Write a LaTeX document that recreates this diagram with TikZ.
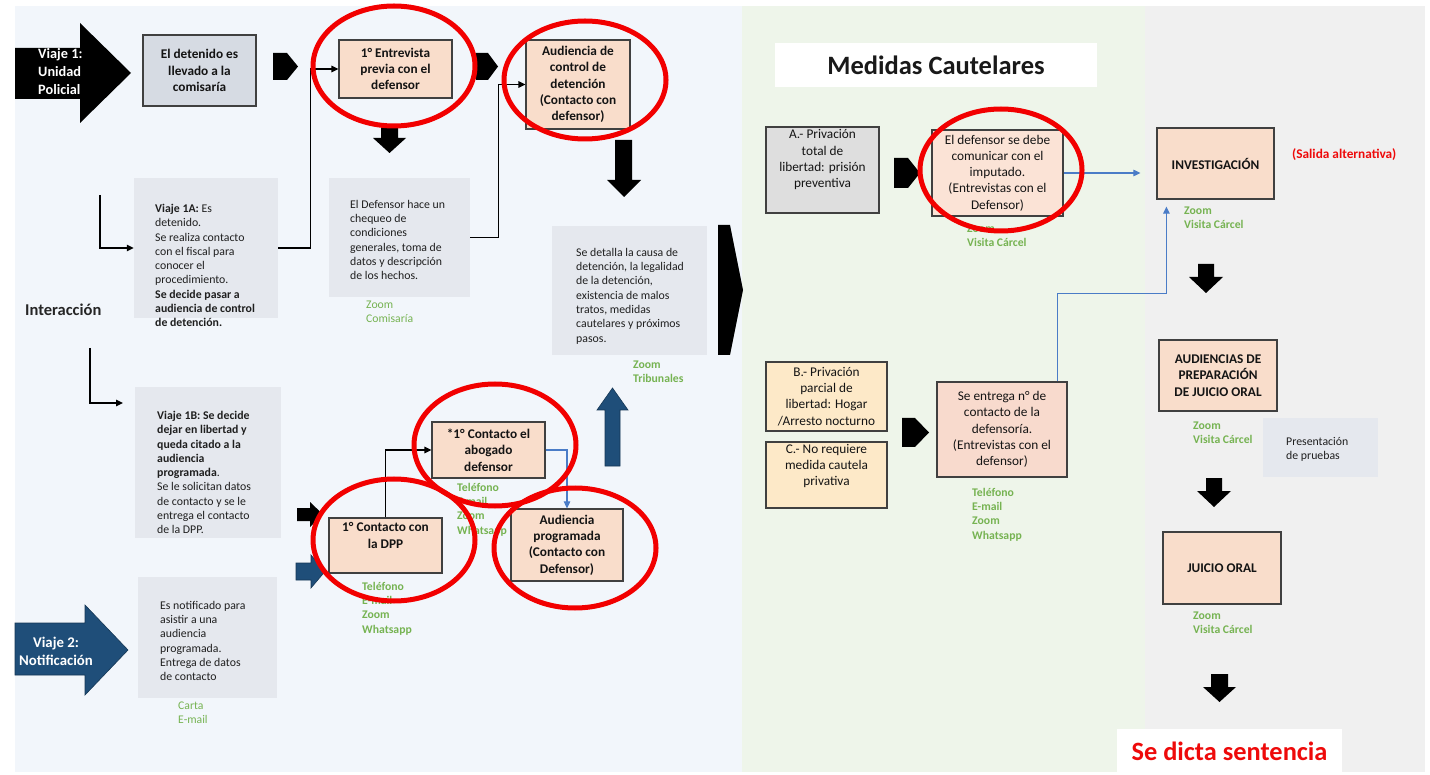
\documentclass[tikz,border=0pt]{standalone}
\usepackage{fontspec}
\setmainfont{Carlito}
\usetikzlibrary{arrows.meta}
\definecolor{bgblue}{HTML}{F2F6FB}
\definecolor{bggreen}{HTML}{EEF5EA}
\definecolor{bggrey}{HTML}{F0F0F0}
\definecolor{peach}{HTML}{F9DDCB}
\definecolor{pinkpeach}{HTML}{FBE3D6}
\definecolor{rosy}{HTML}{F8DACD}
\definecolor{cream}{HTML}{FDE9C8}
\definecolor{boxgrey}{HTML}{D6DBE3}
\definecolor{agrey}{HTML}{DEDEDE}
\definecolor{textbg}{HTML}{E5E8EE}
\definecolor{zgreen}{HTML}{76B352}
\definecolor{navy}{HTML}{1F4E79}
\definecolor{lineblue}{HTML}{4A7CC7}
\definecolor{ovalred}{HTML}{F20000}
\definecolor{txtred}{HTML}{EE0A0A}
\begin{document}
\begin{tikzpicture}[x=1pt,y=-1pt,
  box/.style={draw=black!75,line width=1.2pt,inner sep=0pt,align=center,text=black!92},
  bb/.style={box,font=\fontsize{13.3}{16.3}\selectfont\bfseries},
  rb/.style={box,font=\fontsize{13.3}{16.3}\selectfont},
  tb/.style={fill=textbg,inner sep=0pt},
  tt/.style={anchor=north west,inner sep=0pt,align=left,font=\fontsize{11.8}{14.3}\selectfont,text=black!88},
  gt/.style={anchor=north west,inner sep=0pt,align=left,font=\fontsize{11.7}{14.2}\selectfont\bfseries,text=zgreen},
  gtl/.style={gt,font=\fontsize{11.7}{14.2}\selectfont},
  conn/.style={line width=1.3pt,-{Triangle[length=7pt,width=6.5pt]}},
  bconn/.style={conn,draw=lineblue,line width=1.1pt},
  oval/.style={draw=ovalred,line width=5pt},
  nav/.style={fill=navy,draw=navy!70!black,line width=0.6pt}
]
\useasboundingbox (0,0) rectangle (1430,775);
\fill[white] (0,0) rectangle (1430,775);
\fill[bgblue] (15,6) rectangle (742,772);
\fill[bggreen] (742,6) rectangle (1145,772);
\fill[bggrey] (1145,6) rectangle (1425,772);

% ---------- Viaje 1 arrow
\fill[black] (15,48) -- (80,48) -- (80,23) -- (131,73) -- (80,123) -- (80,99) -- (15,99) -- cycle;
\node[anchor=north west,inner sep=0pt,align=left,font=\fontsize{14.3}{18}\selectfont\bfseries,text=white] (v1) at (38,48) {Viaje 1:\\Unidad\\Policial};

% ---------- Viaje 2 arrow
\path[nav] (15,623) -- (85,623) -- (85,605) -- (128,650) -- (85,695) -- (85,675) -- (15,675) -- cycle;
\node[align=center,inner sep=0pt,font=\fontsize{14.8}{18}\selectfont\bfseries,text=white] (v2) at (56,651) {Viaje 2:\\Notificación};

\node[anchor=west,inner sep=0pt,font=\fontsize{16.5}{18}\selectfont\bfseries,text=black!85] (inter) at (25,310) {Interacción};

% ---------- top row boxes
\node[bb,fill=boxgrey,minimum width=113,minimum height=71] (detenido) at (199.5,70.5) {El detenido es\\llevado a la\\comisaría};
\node[bb,fill=peach,minimum width=113,minimum height=58] (entrevista) at (395.5,69) {1° Entrevista\\previa con el\\defensor};
\node[bb,fill=peach,minimum width=104,minimum height=89] (audctl) at (578,84.5) {Audiencia de\\control de\\detención\\(Contacto con\\defensor)};

% small chevrons
\fill[black] (273,53) -- (287,53) -- (298,66.5) -- (287,80) -- (273,80) -- cycle;
\fill[black] (476,53) -- (488,53) -- (498,66.5) -- (488,80) -- (476,80) -- cycle;

% down arrows
\fill[black] (381,128) -- (398,128) -- (398,138) -- (406,138) -- (389.5,153) -- (373,138) -- (381,138) -- cycle;
\fill[black] (615,140) -- (632,140) -- (632,180) -- (641,180) -- (624,197) -- (607,180) -- (615,180) -- cycle;

% ---------- text boxes
\node[tb,minimum width=144,minimum height=140] (v1a) at (206,248) {};
\node[tt] (v1at) at (155,204) {\textbf{Viaje 1A:} Es\\detenido.\\Se realiza contacto\\con el fiscal para\\conocer el\\procedimiento.\\\textbf{Se decide pasar a}\\\textbf{audiencia de control}\\\textbf{de detención.}};

\node[tb,minimum width=141,minimum height=119] (defensor) at (399.5,237.5) {};
\node[tt] (defensort) at (350,200) {El Defensor hace un\\chequeo de\\condiciones\\generales, toma de\\datos y descripción\\de los hechos.};
\node[gtl] (gdef) at (366,301) {Zoom\\Comisaría};

\node[tb,minimum width=155,minimum height=129] (detalla) at (629.5,290.5) {};
\node[tt] (detallat) at (576,248) {Se detalla la causa de\\detención, la legalidad\\de la detención,\\existencia de malos\\tratos, medidas\\cautelares y próximos\\pasos.};
\node[gt] (gdet) at (633,361) {Zoom\\Tribunales};

% big chevron
\fill[black] (718,225) -- (730,225) -- (743,290) -- (730,355) -- (718,355) -- cycle;

\node[tb,minimum width=146,minimum height=151] (v1b) at (208,462.5) {};
\node[tt] (v1bt) at (157,411) {\textbf{Viaje 1B: Se decide}\\\textbf{dejar en libertad y}\\\textbf{queda citado a la}\\\textbf{audiencia}\\\textbf{programada}.\\Se le solicitan datos\\de contacto y se le\\entrega el contacto\\de la DPP.};

\node[tb,minimum width=139,minimum height=121] (notif) at (207.5,637.5) {};
\node[tt] (notift) at (160,601) {Es notificado para\\asistir a una\\audiencia\\programada.\\Entrega de datos\\de contacto};
\node[gtl] (gnot) at (178,702) {Carta\\E-mail};

% ---------- lower boxes
\node[bb,fill=peach,minimum width=113,minimum height=56] (abogado) at (488.5,450) {*1° Contacto el\\abogado\\defensor};
\node[gt] (gabo) at (457,483) {Teléfono\\E-mail\\Zoom\\Whatsapp};
\node[bb,fill=peach,minimum width=113,minimum height=55] (dpp) at (385.5,545.5) {1° Contacto con\\la DPP\\[4pt]};
\node[gt] (gdpp) at (362,582) {Teléfono\\E-mail\\Zoom\\Whatsapp};
\node[bb,fill=peach,minimum width=112,minimum height=72] (audprog) at (567,545) {Audiencia\\programada\\(Contacto con\\Defensor)};

% block arrows near DPP
\fill[black] (297,508) -- (310,508) -- (310,502) -- (323,514.5) -- (310,527) -- (310,521) -- (297,521) -- cycle;
\path[nav] (296,563) -- (311,563) -- (311,555) -- (325,571.5) -- (311,588) -- (311,580) -- (296,580) -- cycle;
% up arrow
\path[nav] (605,466) -- (605,410) -- (597,410) -- (612.5,388) -- (628,410) -- (620,410) -- (620,466) -- cycle;

% ---------- right part
\node[fill=white,minimum width=322,minimum height=44,inner sep=0pt,font=\fontsize{26.5}{30}\selectfont\bfseries,text=black!90] (medidas) at (936,65) {Medidas Cautelares};

\node[rb,fill=agrey,minimum width=113,minimum height=86] (A) at (822.5,170) {A.- Privación\\total de\\libertad: prisión\\preventiva\\[6pt]};
\fill[black] (894,158) -- (908,158) -- (920,173) -- (908,188) -- (894,188) -- cycle;
\node[rb,fill=pinkpeach,minimum width=131,minimum height=86] (defcom) at (997.5,173) {El defensor se debe\\comunicar con el\\imputado.\\(Entrevistas con el\\Defensor)};
\node[gt] (gdefcom) at (967,225) {Zoom\\Visita Cárcel};

\node[rb,fill=cream,minimum width=121,minimum height=69] (B) at (826.5,396.5) {B.- Privación\\parcial de\\libertad: Hogar\\/Arresto nocturno};
\node[rb,fill=cream,minimum width=121,minimum height=66] (C) at (826.5,475) {C.- No requiere\\medida cautela\\privativa\\[4pt]};
\fill[black] (902,418) -- (915,418) -- (929,432.5) -- (915,447) -- (902,447) -- cycle;
\node[rb,fill=rosy,minimum width=130,minimum height=95] (entrega) at (1002,429.5) {Se entrega n° de\\contacto de la\\defensoría.\\(Entrevistas con el\\defensor)};
\node[gt] (gent) at (972,488) {Teléfono\\E-mail\\Zoom\\Whatsapp};

\node[bb,fill=peach,minimum width=117,minimum height=71] (invest) at (1215.5,163.5) {INVESTIGACIÓN};
\node[anchor=west,inner sep=0pt,font=\fontsize{13.3}{16}\selectfont\bfseries,text=txtred] (salida) at (1292,155) {(Salida alternativa)};
\node[gt] (ginv) at (1184,207) {Zoom\\Visita Cárcel};
\fill[black] (1198,264) -- (1214,264) -- (1214,277) -- (1223,277) -- (1206,293) -- (1189,277) -- (1198,277) -- cycle;

\node[bb,fill=peach,minimum width=118,minimum height=71] (audprep) at (1218,375.5) {AUDIENCIAS DE\\PREPARACIÓN\\DE JUICIO ORAL};
\node[gt] (gaud) at (1193,422) {Zoom\\Visita Cárcel};
\node[tb,minimum width=115,minimum height=59] (pruebas) at (1320.5,447.5) {};
\node[tt] (pruebast) at (1286,437) {Presentación\\de pruebas};
\fill[black] (1206,478) -- (1222,478) -- (1222,491) -- (1231,491) -- (1214,507) -- (1197,491) -- (1206,491) -- cycle;

\node[bb,fill=peach,minimum width=118,minimum height=72] (juicio) at (1222,568) {JUICIO ORAL};
\node[gt] (gjui) at (1193,612) {Zoom\\Visita Cárcel};
\fill[black] (1211,674) -- (1228,674) -- (1228,687) -- (1236,687) -- (1219.5,702) -- (1203,687) -- (1211,687) -- cycle;

\node[fill=white,minimum width=225,minimum height=44,inner sep=0pt,font=\fontsize{26.4}{30}\selectfont\bfseries,text=txtred] (sent) at (1229.5,751) {Se dicta sentencia};

% ---------- connectors
\coordinate (s1a) at (100,195);
\coordinate (s1b) at (90,348);
\coordinate (e1b) at (123,403);
\draw[conn] (s1a) |- (v1a.west);
\draw[conn] (s1b) |- (e1b);
\draw[conn] (v1a.east) -- ++(32,0) |- (entrevista.west);
\draw[conn] (defensor.east) -- ++(28,0) |- (audctl.west);
\draw[conn] (dpp.north) |- (abogado.west);
\draw[bconn] (abogado.east) -| (audprog.north);
\draw[bconn,shorten >=16pt] (defcom.east) -- (defcom.east -| invest.west);
\draw[bconn,shorten >=7pt] ([xshift=-10pt]entrega.north east) |- ([xshift=10pt,yshift=-94pt]invest.south west) -- ([xshift=10pt]invest.south west);

% ---------- red ovals
\draw[oval] (394,66) ellipse [x radius=81, y radius=60];
\draw[oval] (585,80) ellipse [x radius=81, y radius=59];
\draw[oval] (495,445) ellipse [x radius=81, y radius=61];
\draw[oval] (394,540) ellipse [x radius=81, y radius=61];
\draw[oval] (575,548) ellipse [x radius=81, y radius=60];
\draw[oval] (1001,170) ellipse [x radius=81, y radius=61];
\end{tikzpicture}
\end{document}
